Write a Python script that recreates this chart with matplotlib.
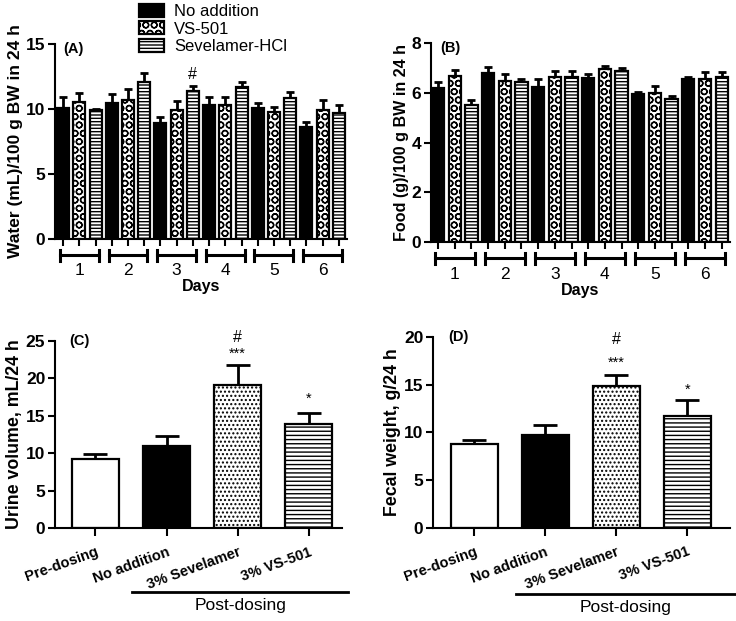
import numpy as np
import matplotlib
matplotlib.use("Agg")
import matplotlib.pyplot as plt
from matplotlib.patches import Patch
from matplotlib.transforms import blended_transform_factory

plt.rcParams['font.family'] = ['Liberation Sans', 'DejaVu Sans']
plt.rcParams['hatch.linewidth'] = 1.0

# ---------------- data ----------------
vecDays = ["1", "2", "3", "4", "5", "6"]
vecGroups = ["No addition", "VS-501", "Sevelamer-HCl"]

# panel A : water intake (mL/100 g BW in 24 h)
waterNoAdd = [10.05, 10.42, 8.93, 10.29, 10.04, 8.6]
waterNoAddErr = [0.83, 0.72, 0.46, 0.59, 0.43, 0.35]
waterVS = [10.55, 10.68, 9.91, 10.29, 9.78, 9.91]
waterVSErr = [0.64, 0.82, 0.71, 0.61, 0.38, 0.77]
waterSev = [9.92, 12.08, 11.39, 11.65, 10.8, 9.65]
waterSevErr = [0.08, 0.64, 0.39, 0.43, 0.47, 0.65]

# panel B : food intake (g/100 g BW in 24 h)
foodNoAdd = [6.2, 6.8, 6.22, 6.59, 5.94, 6.57]
foodNoAddErr = [0.25, 0.26, 0.34, 0.17, 0.11, 0.06]
foodVS = [6.68, 6.47, 6.66, 6.97, 5.98, 6.56]
foodVSErr = [0.23, 0.29, 0.24, 0.13, 0.31, 0.3]
foodSev = [5.52, 6.45, 6.66, 6.88, 5.74, 6.63]
foodSevErr = [0.19, 0.11, 0.24, 0.11, 0.14, 0.2]

# panels C, D
vecDoseCats = ["Pre-dosing", "No addition", "3% Sevelamer", "3% VS-501"]
urineVol = [9.2, 11.0, 19.05, 13.95]
urineErr = [0.65, 1.3, 2.65, 1.45]
fecalWt = [8.8, 9.7, 14.9, 11.76]
fecalErr = [0.45, 1.1, 1.15, 1.6]

EDGE_LW = 1.6
HATCH_VS = "OO"
HATCH_LINES = "-----"


def StyleAxes(ax):
    for s in ["top", "right"]:
        ax.spines[s].set_visible(False)
    for s in ["left", "bottom"]:
        ax.spines[s].set_linewidth(1.5)
    ax.tick_params(axis="both", width=1.5, length=5, direction="out")
    ax.tick_params(axis="y", labelsize=12.5, pad=2)
    for lbl in ax.get_yticklabels():
        lbl.set_fontweight("bold")


def DailyPanel(ax, vecNo, vecNoE, vecVS, vecVSE, vecSev, vecSevE, yMax, yStep, strYLabel, fLabelSize, strTag, xLeft):
    nDays = len(vecNo)
    vals, errs, hatches, faces = [], [], [], []
    for d in range(nDays):
        vals += [vecNo[d], vecVS[d], vecSev[d]]
        errs += [vecNoE[d], vecVSE[d], vecSevE[d]]
        hatches += [None, HATCH_VS, HATCH_LINES]
        faces += ["black", "white", "white"]
    X = np.arange(len(vals))
    ax.errorbar(X, vals, yerr=[np.zeros(len(errs)), errs], fmt="none", ecolor="black",
                elinewidth=2, capsize=2.7, capthick=2, zorder=1)
    bars = ax.bar(X, vals, width=0.74, color=faces, edgecolor="black", linewidth=EDGE_LW, zorder=2)
    for b, h in zip(bars, hatches):
        if h is not None:
            b.set_hatch(h)
    ax.set_xlim(xLeft, len(vals) - 0.5)
    ax.set_ylim(0, yMax)
    ax.set_yticks(np.arange(0, yMax + 0.01, yStep))
    ax.set_xticks(X)
    ax.set_xticklabels([])
    StyleAxes(ax)
    ax.set_ylabel(strYLabel, fontsize=fLabelSize, fontweight="bold", labelpad=2)

    # day brackets under the x axis
    trans = blended_transform_factory(ax.transData, ax.transAxes)
    for d in range(nDays):
        c = 3 * d + 1
        ax.plot([c - 1.2, c + 1.2], [-0.082, -0.082], color="black", lw=2.2, transform=trans, clip_on=False)
        for xe in [c - 1.2, c + 1.2]:
            ax.plot([xe, xe], [-0.055, -0.11], color="black", lw=2.2, transform=trans, clip_on=False)
        ax.text(c, -0.125, vecDays[d], fontsize=12.5, ha="center", va="top", transform=trans)
    ax.text(0.5, -0.205, "Days", fontsize=11.5, fontweight="bold", ha="center", va="top", transform=ax.transAxes)
    ax.text(0.03, 0.975, strTag, fontsize=10.5, fontweight="bold", ha="left", va="center", transform=ax.transAxes)
    return X, vals, errs


def DosePanel(ax, vecVals, vecErr, yMax, strYLabel, strTag, xLim, vecAnnY, lineX, lineY, textY):
    X = np.arange(len(vecVals))
    faces = ["white", "black", "white", "white"]
    hatches = [None, None, "....", "----"]
    ax.errorbar(X, vecVals, yerr=[np.zeros(len(vecErr)), vecErr], fmt="none", ecolor="black",
                elinewidth=2, capsize=8.5, capthick=2, zorder=1)
    bars = ax.bar(X, vecVals, width=0.66, color=faces, edgecolor="black", linewidth=EDGE_LW, zorder=2)
    for b, h in zip(bars, hatches):
        if h is not None:
            b.set_hatch(h)
    ax.set_xlim(*xLim)
    ax.set_ylim(0, yMax)
    ax.set_yticks(np.arange(0, yMax + 0.01, 5))
    ax.set_xticks(X)
    ax.set_xticklabels(vecDoseCats, rotation=20, ha="right", rotation_mode="anchor",
                       fontsize=10.5, fontweight="bold")
    StyleAxes(ax)
    ax.tick_params(axis="x", length=6, pad=6)
    ax.set_ylabel(strYLabel, fontsize=12.8, fontweight="bold", labelpad=2)
    ax.text(0.05, 1.0, strTag, fontsize=10.5, fontweight="bold", ha="left", va="center", transform=ax.transAxes)

    # significance marks
    ax.text(2, vecAnnY[0], "#", fontsize=11.5, ha="center", va="center")
    ax.text(2, vecAnnY[1], "***", fontsize=10.5, ha="center", va="center")
    ax.text(3, vecAnnY[2], "*", fontsize=10.5, ha="center", va="center")

    trans = blended_transform_factory(ax.transAxes, ax.transAxes)
    ax.plot(lineX, [lineY, lineY], color="black", lw=2, transform=trans, clip_on=False)
    ax.text(np.mean(lineX), textY, "Post-dosing", fontsize=12.5, ha="center", va="center", transform=trans)


fig = plt.figure(figsize=(7.36, 6.21), dpi=100)

axA = fig.add_axes([0.0747, 0.6151, 0.3967, 0.3145])
axB = fig.add_axes([0.5856, 0.6103, 0.4063, 0.3200])
axC = fig.add_axes([0.0747, 0.1493, 0.3900, 0.3021])
axD = fig.add_axes([0.5883, 0.1498, 0.4035, 0.3076])

XA, valsA, errsA = DailyPanel(axA, waterNoAdd, waterNoAddErr, waterVS, waterVSErr, waterSev, waterSevErr,
                              15, 5, "Water (mL)/100 g BW in 24 h", 12.5, "(A)", -0.5)
axA.text(8, valsA[8] + errsA[8] + 0.25, "#", fontsize=11.5, ha="center", va="bottom")

DailyPanel(axB, foodNoAdd, foodNoAddErr, foodVS, foodVSErr, foodSev, foodSevErr,
           8, 2, "Food (g)/100 g BW in 24 h", 11.6, "(B)", -0.42)

DosePanel(axC, urineVol, urineErr, 25, "Urine volume, mL/24 h", "(C)", (-0.57, 3.47),
          [25.4, 23.3, 17.2], [0.27, 1.02], -0.34, -0.41)
DosePanel(axD, fecalWt, fecalErr, 20, "Fecal weight, g/24 h", "(D)", (-0.58, 3.6),
          [19.7, 17.3, 14.5], [0.28, 1.02], -0.345, -0.415)

handles = [Patch(facecolor="black", edgecolor="black", linewidth=EDGE_LW),
           Patch(facecolor="white", edgecolor="black", linewidth=EDGE_LW, hatch=HATCH_VS),
           Patch(facecolor="white", edgecolor="black", linewidth=EDGE_LW, hatch=HATCH_LINES)]
fig.legend(handles, vecGroups, loc="upper left", bbox_to_anchor=(0.169, 1.018), frameon=False,
           fontsize=12, handlelength=1.5, handleheight=0.8, handletextpad=0.6, labelspacing=0.15)

fig.savefig("out.png", dpi=100)
